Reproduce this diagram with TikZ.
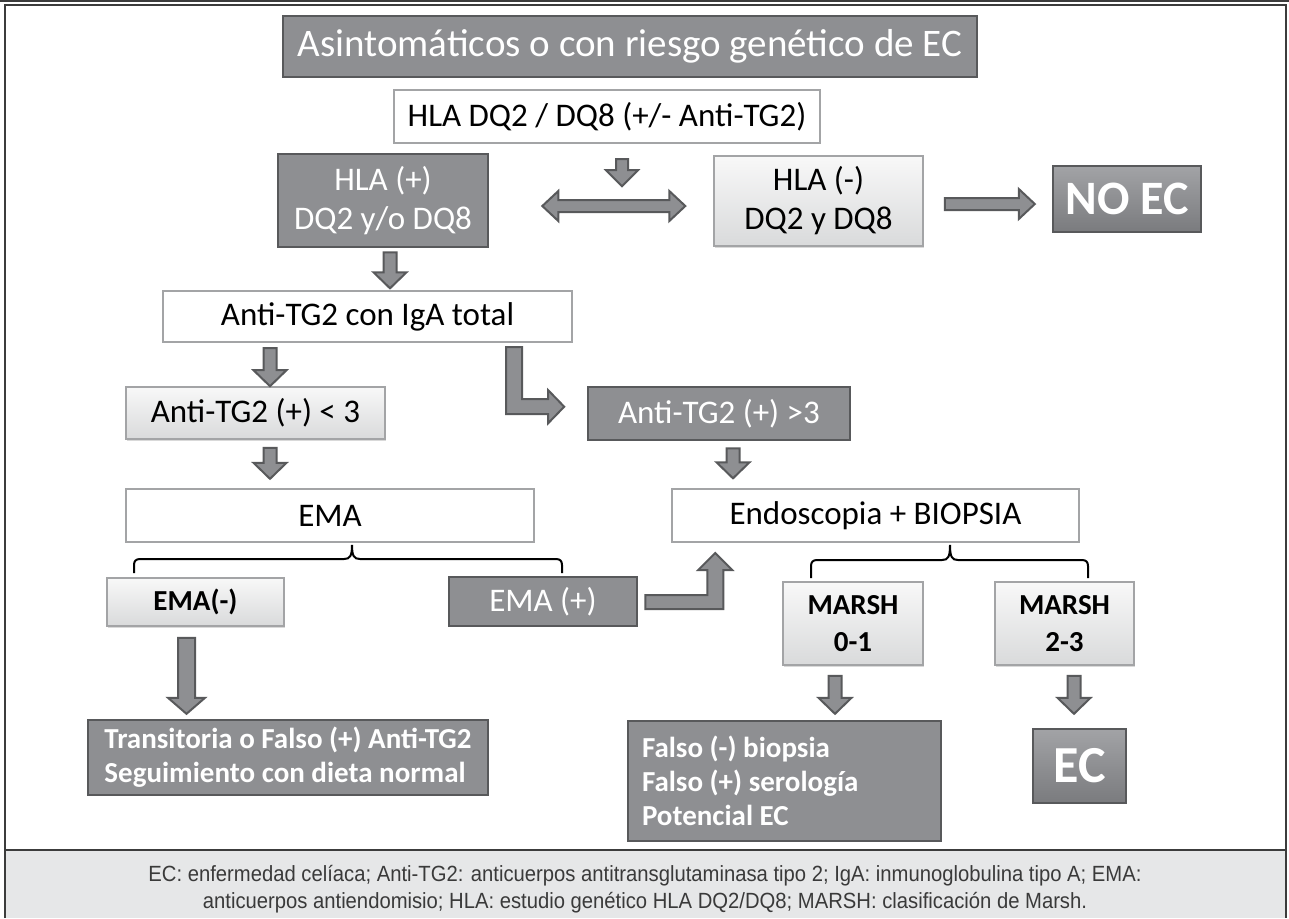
\documentclass[tikz,border=0pt]{standalone}
\usepackage{fontspec}
\setmainfont{Carlito}
\newfontfamily\capfont[FakeStretch=0.92]{Liberation Sans}
\usetikzlibrary{calc,shadows}

\definecolor{boxdark}{HTML}{8E8F92}
\definecolor{edgedark}{HTML}{58595B}
\definecolor{edgelight}{HTML}{A3A4A6}
\definecolor{lighttop}{HTML}{F8F8F8}
\definecolor{lightbot}{HTML}{D9DADB}
\definecolor{bevtop}{HTML}{A2A3A6}
\definecolor{bevbot}{HTML}{7A7B7E}
\definecolor{capfill}{HTML}{E6E7E8}
\definecolor{captext}{HTML}{3A3A3A}
\definecolor{framedark}{HTML}{3C3C3C}

\tikzset{
	box/.style={rectangle,inner sep=0pt,align=center,font=\fontsize{16.5}{19.5}\selectfont},
	boldtext/.style={font=\bfseries\fontsize{14.5}{17}\selectfont},
	darkbox/.style={box,fill=boxdark,draw=edgedark,line width=1.3pt,text=white},
	whitebox/.style={box,fill=white,draw=edgelight,line width=1.2pt},
	lightbox/.style={box,top color=lighttop,bottom color=lightbot,draw=edgelight,line width=0.8pt,drop shadow={opacity=0.3,shadow xshift=0.6pt,shadow yshift=-0.9pt}},
	bevelbox/.style={box,top color=bevtop,bottom color=bevbot,draw=edgedark,line width=1.2pt,text=white,font=\bfseries\fontsize{24}{28}\selectfont},
	blockarrow/.style={fill=boxdark,draw=edgedark,line width=1pt,line join=miter},
	bracepath/.style={draw=black,line width=1pt},
	captext/.style={inner sep=0pt,align=center,text=captext,font=\capfont\fontsize{11}{13.5}\selectfont}
}

% down block arrow: start point, length, half shaft width
\newcommand{\blockdown}[3]{\filldraw[blockarrow,shift={(#1)}] (-#3,0) -- (#3,0) -- (#3,#2-16) -- (#3+10,#2-16) -- (0,#2) -- (-#3-10,#2-16) -- (-#3,#2-16) -- cycle;}

\begin{document}
\begin{tikzpicture}[x=0.5pt,y=-0.5pt]
	\useasboundingbox (0,0) rectangle (1289,918);
	\fill[capfill] (5,850) rectangle (1286,918);
	\draw[framedark,line width=1.2pt] (0,1) -- (1289,1);
	\draw[framedark,line width=0.7pt] (5,918) -- (5,5) -- (1286,5) -- (1286,918);
	\draw[framedark,line width=0.7pt] (5,850) -- (1286,850);

	\node[darkbox,minimum width=347pt,minimum height=30.5pt,font=\fontsize{19.5}{23}\selectfont] (title) at (630,46.5) {Asintomáticos o con riesgo genético de EC};
	\node[whitebox,minimum width=213pt,minimum height=26.5pt] (hladq) at (607,116.5) {HLA DQ2 / DQ8 (+/- Anti-TG2)};
	\node[darkbox,minimum width=105pt,minimum height=46.5pt] (hlapos) at (383,200.5) {HLA (+)\\DQ2 y/o DQ8};
	\node[lightbox,minimum width=104.5pt,minimum height=45pt] (hlaneg) at (818.5,201) {HLA (-)\\DQ2 y DQ8};
	\node[bevelbox,minimum width=74pt,minimum height=33pt] (noec) at (1127,199) {NO EC};
	\node[whitebox,minimum width=204.5pt,minimum height=25.5pt] (igatot) at (367.5,316.5) {Anti-TG2 con IgA total};
	\node[lightbox,minimum width=129.5pt,minimum height=26pt] (tgbajo) at (255.5,413) {Anti-TG2 (+) < 3};
	\node[darkbox,minimum width=131pt,minimum height=26.5pt] (tgalto) at (719,413.5) {Anti-TG2 (+) >3};
	\node[whitebox,minimum width=204pt,minimum height=26.5pt] (ema) at (330,515.5) {EMA};
	\node[whitebox,minimum width=203.5pt,minimum height=26.5pt] (endo) at (875.5,515.5) {Endoscopia + BIOPSIA};
	\node[lightbox,boldtext,minimum width=88.5pt,minimum height=24pt] (emaneg) at (195.5,602) {EMA(-)};
	\node[darkbox,minimum width=94pt,minimum height=24.5pt] (emapos) at (543,601.5) {EMA (+)};
	\node[lightbox,boldtext,font=\bfseries\fontsize{14.5}{18.5}\selectfont,minimum width=70pt,minimum height=41.5pt] (marsh01) at (853,623.5) {MARSH\\0-1};
	\node[lightbox,boldtext,font=\bfseries\fontsize{14.5}{18.5}\selectfont,minimum width=69.5pt,minimum height=41.5pt] (marsh23) at (1064.5,623.5) {MARSH\\2-3};
	\node[darkbox,boldtext,align=left,minimum width=200pt,minimum height=37.5pt] (transit) at (288,757.5) {Transitoria o Falso (+) Anti-TG2\\Seguimiento con dieta normal};
	\node[darkbox,boldtext,align=flush left,text width=142.5pt,inner xsep=7pt,minimum height=60pt] (falso) at (784.5,781) {Falso (-) biopsia\\Falso (+) serología\\Potencial EC};
	\node[bevelbox,font=\bfseries\fontsize{26}{30}\selectfont,minimum width=46.5pt,minimum height=37pt] (ec) at (1079.5,766) {EC};

	\blockdown{$(hladq.south)+(15,15)$}{27}{6}
	\filldraw[blockarrow,shift={($(hlapos.east)+(53,5.5)$)}] (0,0) -- (16,-15) -- (16,-6) -- (127,-6) -- (127,-15) -- (143,0) -- (127,15) -- (127,6) -- (16,6) -- (16,15) -- cycle;
	\filldraw[blockarrow,shift={($(hlaneg.east)+(21,3)$)}] (0,-6) -- (74,-6) -- (74,-15) -- (90,0) -- (74,15) -- (74,6) -- (0,6) -- cycle;
	\blockdown{$(hlapos.south)+(7,4)$}{36}{6.5}
	\blockdown{$(igatot.south)+(-97.5,5)$}{38}{6.5}
	\filldraw[blockarrow,shift={($(igatot.south east)+(-67,4)$)}] (0,0) -- (16,0) -- (16,52) -- (42,52) -- (42,43) -- (58,59.5) -- (42,76) -- (42,67) -- (0,67) -- cycle;
	\blockdown{$(tgalto.south)+(14,7)$}{30}{6.5}
	\blockdown{$(tgbajo.south)+(14.5,8)$}{31}{6.5}
	\filldraw[blockarrow,shift={($(emapos.east)+(7,-6.5)$)}] (0,0) -- (62,0) -- (62,-25) -- (53,-25) -- (70,-42) -- (87,-25) -- (78,-25) -- (78,14) -- (0,14) -- cycle;
	\blockdown{$(emaneg.south)+(-9,11)$}{76}{8.5}
	\blockdown{$(marsh01.south)+(-18,10)$}{38}{6.5}
	\blockdown{$(marsh23.south)+(9.5,10)$}{38}{6.5}

	\draw[bracepath] (134,573) -- (134,565) .. controls (134,561) and (136,559) .. (140,559) -- (344,559) .. controls (350,559) and (352,556) .. (352,545) .. controls (352,556) and (354,559) .. (360,559) -- (556,559) .. controls (560,559) and (562,561) .. (562,565) -- (562,573);
	\draw[bracepath] (811,578) -- (811,566) .. controls (811,562) and (813,560) .. (817,560) -- (942,560) .. controls (948,560) and (950,557) .. (950,545) .. controls (950,557) and (952,560) .. (958,560) -- (1082,560) .. controls (1086,560) and (1088,562) .. (1088,566) -- (1088,578);

	\node[captext] (legend) at (645,889.5) {EC: enfermedad celíaca; Anti-TG2: anticuerpos antitransglutaminasa tipo 2; IgA: inmunoglobulina tipo A; EMA:\\anticuerpos antiendomisio; HLA: estudio genético HLA DQ2/DQ8; MARSH: clasificación de Marsh.};
\end{tikzpicture}
\end{document}
